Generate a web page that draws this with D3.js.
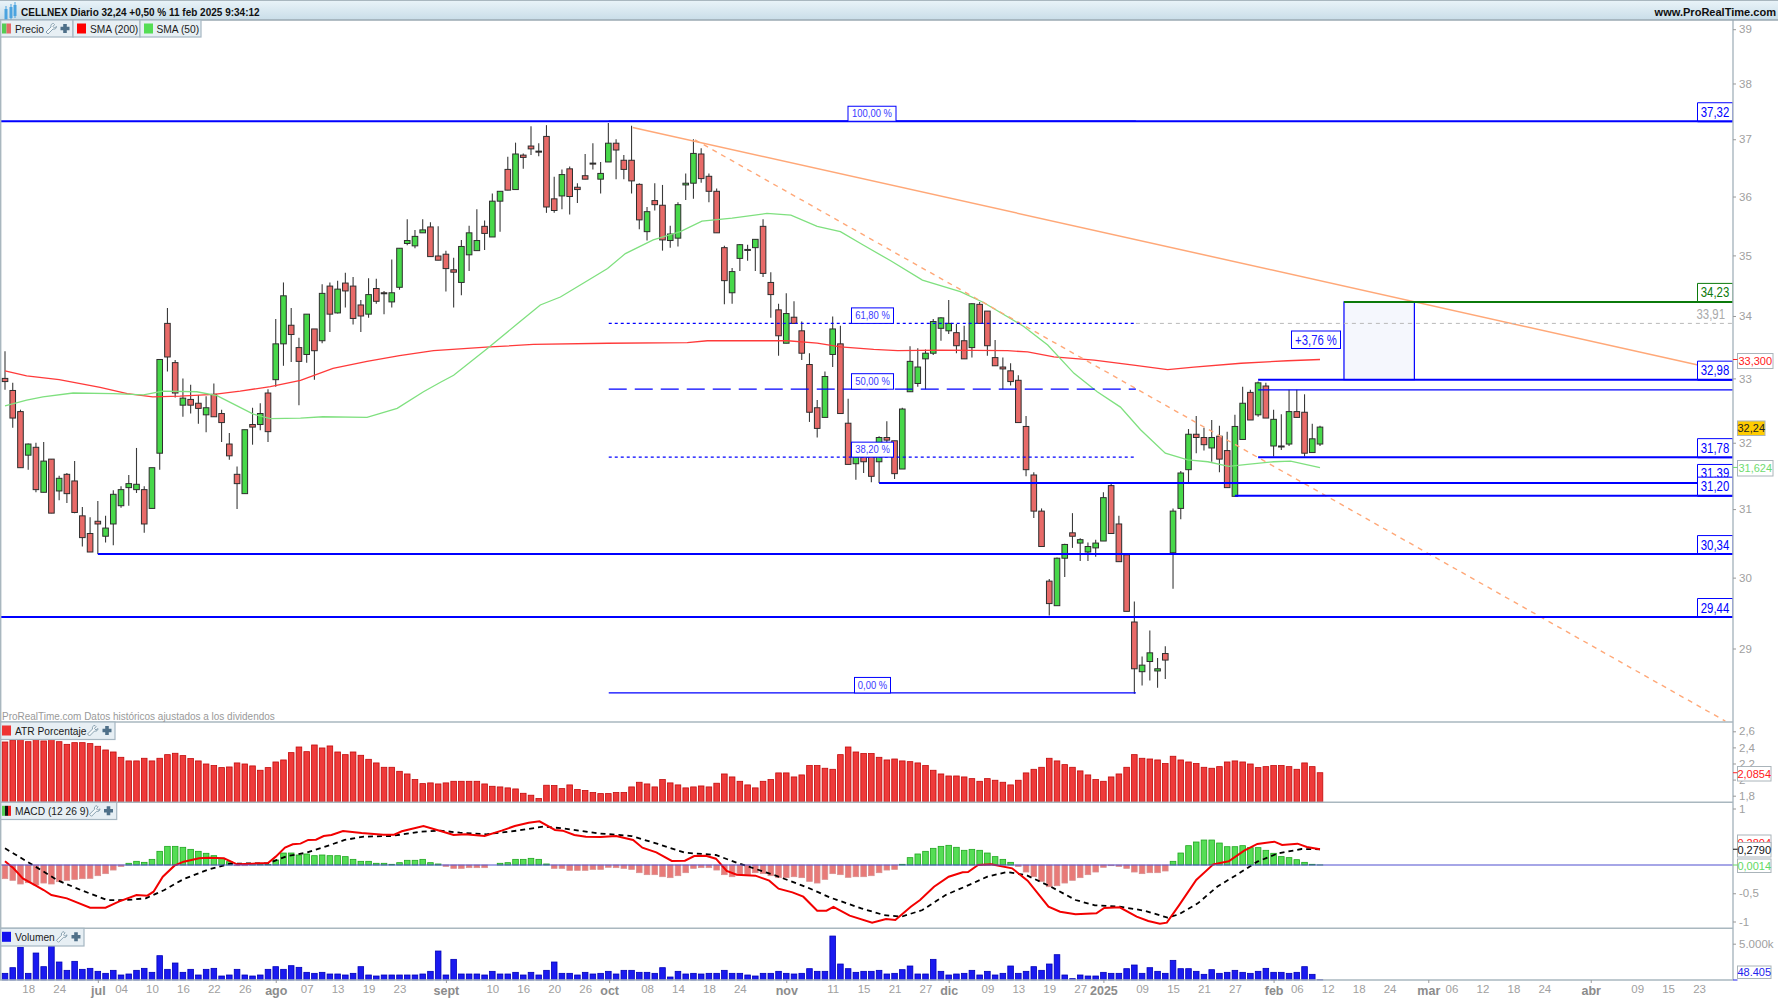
<!DOCTYPE html>
<html><head><meta charset="utf-8">
<script src="https://cdn.jsdelivr.net/npm/d3@7"></script>
<style>html,body{margin:0;padding:0;background:#fff;overflow:hidden}svg{display:block}
text{font-family:"Liberation Sans",Arial,sans-serif}</style></head><body>
<svg id="c" width="1778" height="1000"></svg>
<script>
const opens=[33.00,32.81,32.48,31.81,31.93,31.25,31.75,31.27,31.52,31.42,
30.90,30.64,30.82,30.60,30.78,31.05,31.32,31.29,31.29,31.01,
31.84,33.88,33.25,32.58,32.67,32.61,32.43,32.75,32.45,31.98,
31.52,31.23,32.28,32.28,32.77,32.98,33.55,33.85,33.49,33.38,
33.79,33.60,34.49,34.05,34.54,34.49,34.18,34.03,34.45,34.38,
34.23,34.47,35.20,35.16,35.38,35.48,34.99,35.02,34.76,34.55,
35.01,35.08,35.49,35.31,35.92,36.47,36.12,36.72,36.88,36.79,
37.05,35.96,36.01,36.48,36.16,36.36,36.58,36.30,36.60,36.93,
36.63,36.63,36.21,35.40,35.93,35.85,35.25,35.29,36.20,36.23,
36.74,36.35,36.09,35.13,34.38,34.95,35.09,35.13,35.49,34.55,
34.10,33.56,33.98,33.76,33.22,32.54,32.39,33.38,33.55,32.30,
31.68,31.85,31.89,31.71,32.08,32.03,31.60,32.79,32.92,33.31,
33.40,33.80,33.76,33.73,33.60,33.49,34.19,34.08,33.33,33.18,
33.12,32.97,32.25,31.51,30.97,29.95,29.60,30.28,30.65,30.50,
30.37,30.43,30.53,31.35,30.78,30.33,29.37,28.68,28.82,28.69,
28.93,30.36,31.01,31.59,32.13,32.08,31.92,32.10,31.88,31.19,
32.05,32.78,32.43,32.88,31.95,31.95,31.98,32.48,32.47,31.85,
31.98];
const closes=[32.95,32.38,31.62,31.98,31.29,31.72,30.94,31.46,31.23,30.95,
30.58,30.37,30.78,30.72,31.22,31.29,31.38,31.37,30.78,31.62,
33.30,33.34,32.77,32.69,32.58,32.53,32.54,32.40,32.31,31.80,
31.38,32.20,32.24,32.45,32.17,33.55,34.33,33.70,33.27,34.03,
33.44,34.37,34.03,34.44,34.41,33.96,34.00,34.35,34.24,34.37,
34.38,35.12,35.25,35.32,35.43,34.98,34.92,34.78,34.72,35.15,
35.38,35.25,35.37,35.92,36.09,36.11,36.74,36.68,36.83,36.78,
35.82,35.76,36.38,36.00,36.12,36.30,36.57,36.40,36.93,36.81,
36.47,36.27,35.60,35.74,35.86,35.26,35.36,35.86,36.23,36.75,
36.31,36.09,35.38,34.58,34.73,35.18,35.10,35.27,34.70,34.35,
33.68,34.04,33.88,33.40,32.47,32.22,33.03,33.79,32.45,31.67,
31.97,31.71,31.49,32.08,32.04,31.53,32.52,33.27,33.18,33.40,
33.91,33.97,33.88,33.52,33.31,34.20,33.88,33.52,33.20,33.15,
32.95,32.31,31.59,30.97,30.45,29.63,30.28,30.48,30.60,30.55,
30.45,30.50,31.17,30.64,30.23,29.52,28.72,28.77,28.94,28.72,
28.84,30.97,31.54,32.13,32.08,31.97,32.08,31.75,31.32,32.25,
32.61,32.35,32.93,32.38,32.36,31.94,32.48,32.39,31.84,32.06,
32.24];
const highs=[33.43,32.93,32.51,31.99,32.00,32.01,31.75,31.50,31.54,31.72,
31.03,30.88,31.12,30.90,31.28,31.34,31.51,31.92,31.34,31.62,
33.30,34.13,33.29,33.00,32.90,32.74,32.72,32.92,32.51,32.15,
31.64,32.20,32.54,32.61,32.83,33.95,34.55,34.13,33.65,34.03,
33.79,34.52,34.55,34.58,34.71,34.64,34.26,34.62,34.61,34.41,
34.93,35.12,35.61,35.43,35.61,35.56,35.49,35.08,34.96,35.26,
35.50,35.78,35.59,36.05,36.09,36.69,36.94,36.75,37.23,36.93,
37.25,36.34,36.47,36.52,36.23,36.74,36.93,36.60,37.29,37.00,
36.72,37.24,36.23,35.82,36.23,36.20,35.50,35.90,36.40,37.00,
36.84,36.40,36.14,35.16,34.79,35.19,35.18,35.27,35.61,34.72,
34.20,34.37,34.24,33.91,33.40,32.66,33.11,33.99,33.84,32.68,
31.97,31.92,31.93,32.10,32.33,32.03,32.54,33.51,33.48,33.46,
33.95,33.98,34.26,33.87,33.84,34.21,34.23,34.08,33.61,33.33,
33.24,33.05,32.41,31.55,31.01,29.98,30.29,30.49,30.94,30.57,
30.51,30.55,31.25,31.39,30.90,30.33,29.66,28.89,29.25,28.87,
29.03,31.01,31.57,32.21,32.41,32.23,32.35,32.26,32.17,32.43,
32.87,32.82,32.95,32.93,32.51,32.44,32.82,32.82,32.75,32.29,
32.26];
const lows=[32.82,32.23,31.62,31.59,31.25,31.25,30.94,31.13,31.09,30.94,
30.45,30.37,30.34,30.51,30.47,31.02,31.05,31.24,30.65,31.01,
31.59,33.11,32.70,32.40,32.45,32.29,32.16,32.40,32.01,31.74,
31.00,31.23,31.97,32.19,32.01,32.87,33.20,33.26,32.58,33.25,
32.98,33.56,33.74,34.04,34.14,33.86,33.74,33.97,34.20,34.03,
34.14,34.43,35.17,35.12,35.38,34.98,34.92,34.40,34.14,34.34,
34.74,35.08,35.09,35.31,35.40,36.11,36.12,36.48,36.72,36.70,
35.72,35.72,35.78,35.69,35.89,36.30,36.47,36.05,36.60,36.30,
36.30,36.05,35.44,35.25,35.76,35.08,35.13,35.15,35.94,35.96,
36.24,35.90,35.38,34.19,34.20,34.74,34.91,34.74,34.64,33.97,
33.36,33.56,33.88,33.29,32.32,32.08,32.39,33.18,32.45,31.67,
31.44,31.54,31.40,31.39,31.97,31.45,31.60,32.79,32.87,32.83,
33.37,33.60,33.71,33.40,33.31,33.33,33.88,33.36,33.20,32.83,
32.89,32.31,31.49,30.87,30.45,29.46,29.60,30.01,30.43,30.24,
30.24,30.30,30.53,30.64,30.23,29.52,28.38,28.49,28.56,28.46,
28.58,29.84,30.85,31.39,31.84,31.88,31.71,31.55,31.32,31.19,
32.05,32.35,32.40,32.38,31.79,31.89,31.95,32.39,31.79,31.85,
31.95];
const sma200Pos=[0,2.8,7,12.3,15.8,19.1,22.6,27,30.4,34.3,38.2,42.4,46.8,51,55.4,62.7,68.3,77.9,88.2,90.8,97.7,101.2,105,108,112.3,115.4,121,129.6,132.2,135.6,140.8,145.9,150.3,153.7,159.8,165.8,170];
const sma200Val=[33.12,33.04,32.98,32.86,32.76,32.71,32.72,32.75,32.80,32.87,32.97,33.16,33.27,33.36,33.44,33.50,33.54,33.56,33.57,33.60,33.60,33.60,33.56,33.50,33.46,33.44,33.45,33.44,33.42,33.34,33.29,33.21,33.14,33.18,33.24,33.28,33.30];
const sma50Pos=[0,2.8,4.9,8.8,14,17.9,20.4,24.8,27.4,29.5,32.1,34.3,38.2,41.1,46.8,50.7,54.1,56.3,58,62.4,66.2,69.2,71.8,74.8,77.9,80.2,83.8,87.3,90.1,94,98.5,101.6,105,108,111,114.5,118.6,123.5,126.5,131.7,134.8,138.2,141.2,144.2,146.8,150,152.9,155.5,158.2,160.6,164,166.2,170];
const sma50Val=[32.57,32.66,32.71,32.77,32.76,32.74,32.80,32.79,32.73,32.60,32.44,32.37,32.38,32.40,32.39,32.53,32.79,32.94,33.05,33.48,33.87,34.18,34.31,34.54,34.78,35.03,35.26,35.40,35.58,35.63,35.71,35.68,35.49,35.40,35.17,34.91,34.59,34.40,34.22,33.83,33.53,33.08,32.79,32.55,32.20,31.84,31.74,31.71,31.64,31.67,31.71,31.72,31.62];
const atrVal=[2.467,2.492,2.496,2.471,2.496,2.480,2.500,2.471,2.438,2.459,2.459,2.447,2.414,2.368,2.343,2.277,2.232,2.232,2.265,2.232,2.265,2.310,2.327,2.298,2.261,2.232,2.194,2.174,2.149,2.157,2.207,2.194,2.170,2.116,2.149,2.219,2.244,2.335,2.405,2.347,2.430,2.393,2.418,2.343,2.310,2.343,2.302,2.252,2.207,2.153,2.153,2.103,2.070,2.000,1.950,1.959,1.946,1.959,1.979,1.979,1.979,1.979,1.946,1.917,1.909,1.897,1.884,1.830,1.806,1.764,1.930,1.926,1.888,1.934,1.876,1.864,1.839,1.826,1.826,1.839,1.839,1.909,1.967,1.946,1.909,2.000,1.959,1.934,1.897,1.909,1.921,1.909,1.955,2.070,2.033,1.979,1.934,1.897,1.979,2.000,2.083,2.083,2.033,2.058,2.174,2.174,2.141,2.128,2.310,2.405,2.343,2.323,2.323,2.277,2.244,2.256,2.232,2.223,2.207,2.174,2.116,2.070,2.045,2.045,2.033,2.012,1.979,2.012,1.992,1.967,1.934,1.992,2.083,2.128,2.153,2.265,2.232,2.186,2.153,2.108,2.058,2.000,1.979,2.033,2.070,2.153,2.310,2.265,2.256,2.244,2.199,2.290,2.244,2.219,2.199,2.153,2.141,2.161,2.219,2.232,2.219,2.194,2.149,2.161,2.174,2.174,2.161,2.128,2.207,2.161,2.0854];
const histVal=[-.242,-.271,-.336,-.313,-.354,-.319,-.336,-.295,-.271,-.254,-.242,-.236,-.189,-.153,-.089,-.024,.030,.065,.047,.100,.242,.330,.330,.313,.277,.242,.207,.165,.118,.059,-.012,-.012,.006,.012,.012,.089,.212,.212,.177,.195,.165,.177,.165,.165,.148,.100,.065,.065,.030,.030,.012,.041,.083,.083,.100,.041,.018,-.024,-.059,-.059,-.047,-.047,-.047,0,.030,.041,.100,.100,.118,.100,.018,-.059,-.059,-.094,-.094,-.094,-.077,-.077,-.041,-.047,-.059,-.077,-.136,-.171,-.171,-.207,-.224,-.189,-.136,-.059,-.047,-.047,-.089,-.171,-.207,-.171,-.171,-.136,-.153,-.189,-.224,-.224,-.207,-.224,-.289,-.319,-.254,-.153,-.171,-.218,-.207,-.207,-.189,-.136,-.089,-.077,.012,.130,.195,.242,.295,.330,.348,.313,.260,.277,.260,.212,.148,.100,.047,-.024,-.124,-.207,-.289,-.384,-.366,-.319,-.271,-.224,-.171,-.124,-.041,-.012,-.024,-.059,-.124,-.153,-.136,-.136,-.106,.065,.212,.342,.407,.442,.442,.389,.324,.324,.342,.307,.307,.260,.207,.148,.130,.094,.047,.012,.0014];
const macdPos=[0,1.1,2.3,4.1,5,6,8,11,13,14.7,17,18.4,19.2,20.4,21.9,23.1,25.1,26.3,28.3,30,32,34,35,36.2,37.2,38.2,39.2,40.2,41.2,42.2,43.7,46.1,48.9,50.3,51.3,54.1,56.3,58,59.5,62,64.2,65.9,67.7,69.1,71.1,72.1,73.6,75.1,77,79,81.2,82.4,84.2,86.2,87.9,89.1,90.6,91.9,93.3,94.6,97,98.8,100,101.8,103.2,105,106.2,107.1,109.2,112.1,113.9,115.1,117.1,118.3,120.1,122,123.8,124.5,125.8,127.5,130.2,132.2,134.9,136.4,138.4,141.1,142.1,144.1,146.3,147.8,149.3,150.2,151.75,154,156.2,158.2,160.2,161.9,164.1,165.1,167.1,168.3,170];
const macdVal=[.065,-.059,-.236,-.372,-.443,-.531,-.590,-.755,-.755,-.649,-.531,-.543,-.472,-.207,-.012,.059,.118,.130,.118,.012,.024,.035,.148,.307,.366,.378,.443,.448,.513,.531,.602,.566,.537,.537,.596,.690,.602,.531,.543,.513,.608,.690,.749,.773,.620,.608,.531,.502,.496,.513,.443,.307,.224,.071,.077,.159,.165,.112,-.106,-.171,-.189,-.277,-.419,-.484,-.561,-.808,-.808,-.743,-.897,-1.021,-.956,-.974,-.738,-.620,-.384,-.207,-.130,-.124,0,.012,-.059,-.277,-.738,-.826,-.873,-.856,-.761,-.749,-.915,-.991,-1.038,-1.021,-.720,-.266,.012,.065,.254,.372,.413,.354,.378,.319,.2804];
const signalPos=[0,2.3,3.6,6.8,9.8,13.2,15.7,18.2,20.6,23.1,26.1,29.1,34,36.5,39,41.4,43.9,46.4,49.9,53.8,56.3,58.8,62.2,66.2,69.6,72.1,76.6,81,84.4,87.9,91.9,94.8,99.3,103.7,106.7,110.7,113.6,115.9,118.6,121.6,124.5,127,129.5,132,135.2,138.4,140.9,144.1,147.3,150.3,151.75,154.2,156.7,159.2,161.9,164.6,167.6,170];
const signalVal=[.295,.106,0,-.271,-.443,-.620,-.620,-.590,-.443,-.248,-.089,.024,.030,.159,.218,.325,.443,.502,.513,.590,.608,.572,.543,.608,.679,.649,.561,.513,.372,.218,.177,.030,-.171,-.395,-.578,-.767,-.885,-.915,-.797,-.531,-.360,-.207,-.124,-.177,-.384,-.620,-.714,-.738,-.808,-.932,-.873,-.679,-.384,-.177,.059,.207,.283,.279];
const volVal=[917,1697,4495,917,3715,1835,4679,2477,1330,2569,1468,1605,1193,917,1330,688,826,1330,1605,1055,3349,1468,2339,1055,1468,688,1468,1605,550,688,1468,688,550,688,1468,1835,1468,1972,1743,1055,917,1055,826,826,688,917,1835,688,550,688,688,688,688,688,826,1193,3991,688,2844,826,826,826,688,1193,826,826,1055,688,1055,688,1330,2477,917,917,688,1055,826,
917,1193,826,1330,1330,1055,1055,917,1697,413,1193,826,917,826,917,917,1330,917,917,688,550,917,917,1193,917,826,917,1560,1193,1193,6055,2202,1560,1055,1193,1193,1330,826,917,1422,1927,826,826,2844,1193,688,826,917,1330,688,1193,688,917,1927,917,1193,1835,1330,2202,3486,688,183,688,550,550,1055,917,917,1560,2064,917,1697,1193,917,2706,1560,1560,1193,780,1422,917,1055,1330,1055,917,1193,1605,1055,1055,917,1055,1835,780,48];
const priceTicks=[29,30,31,32,33,34,35,36,37,38,39];
const atrTicks=[1.8,2,2.2,2.4,2.6];
const macdTicks=[-1,-0.5,1];
const dayTickPos=[3,7,15,19,23,27,31,39,43,47,51,63,67,71,75,83,87,91,95,107,111,115,119,127,131,135,139,147,151,155,159,167,171,175,179,187,191,195,199,211,215,219];
const dayTickText=["18","24","04","10","16","22","26","07","13","19","23","10","16","20","26","08","14","18","24","11","15","21","27","09","13","19","27","09","15","21","27","06","12","18","24","06","12","18","24","09","15","23"];
const monthTickPos=[12,35,57,78.1,101,122,142,164,184,205];
const monthTickText=["jul","ago","sept","oct","nov","dic","2025","feb","mar","abr"];
const levelPrices=[37.32,34.23,32.98,32.82,31.78,31.39,31.20,30.34,29.44];
const levelStart=[-1,173.1,162,162,162,113,159,12,-1];
const levelLabel=["37,32","34,23","32,98",null,"31,78","31,39","31,20","30,34","29,44"];
const fibPrices=[37.32,33.88,32.83,31.78,28.39];
const fibText=["100,00 %","61,80 %","50,00 %","38,20 %","0,00 %"];

const W=1778,AX=1733,blue="#0000ff";
const svg=d3.select("#c");
const defs=svg.append("defs");
const hg=defs.append("linearGradient").attr("id","hd").attr("x1",0).attr("y1",0).attr("x2",0).attr("y2",1);
hg.append("stop").attr("offset",0).attr("stop-color","#eaf4f9");hg.append("stop").attr("offset",1).attr("stop-color","#c9dde8");
defs.append("clipPath").attr("id","pc").append("rect").attr("x",0).attr("y",20).attr("width",AX).attr("height",702);

const x=d3.scaleLinear().domain([0,170]).range([5,1320]);
const y=d3.scaleLog().domain([29,39]).range([648.5,29.2]);
const yA=d3.scaleLinear().domain([1.8,2.6]).range([795.7,731.3]);
const yM=d3.scaleLinear().domain([-1,1]).range([921.5,808.5]);
const yV=d3.scaleLinear().domain([0,5000]).range([980,943.7]);
const idx=d3.range(opens.length);
const BW=5.6;

function T(g,px,py,s,o={}){
  return g.append("text").attr("transform",`translate(${px},${py}) scale(${o.sx||1},1)`)
   .attr("font-size",o.size||11).attr("fill",o.fill||"#000").attr("text-anchor",o.anchor||"start")
   .attr("font-weight",o.weight||"normal").text(s);
}
const main=svg.append("g").attr("clip-path","url(#pc)");

// rectangle zone
const zx0=x(173.1),zx1=x(182.2);
main.append("rect").attr("x",zx0).attr("width",zx1-zx0).attr("y",y(34.23)).attr("height",y(32.98)-y(34.23))
 .attr("fill","#f5f7fd").attr("stroke",blue).attr("stroke-width",1.2);

// candles
const cg=main.append("g");
cg.selectAll("line").data(idx).join("line")
 .attr("x1",i=>x(i)).attr("x2",i=>x(i)).attr("y1",i=>y(highs[i])).attr("y2",i=>y(lows[i]))
 .attr("stroke","#3a3a3a").attr("stroke-width",1.1);
cg.selectAll("rect").data(idx).join("rect")
 .attr("x",i=>x(i)-BW/2).attr("width",BW)
 .attr("y",i=>y(Math.max(opens[i],closes[i])))
 .attr("height",i=>Math.max(1,Math.abs(y(opens[i])-y(closes[i]))))
 .attr("fill",i=>closes[i]>=opens[i]?"#47d84a":"#e86a68").attr("stroke","#2e2e2e").attr("stroke-width",1);

// SMA lines
const ln=(px,py)=>d3.line().x((d,i)=>x(px[i])).y(d=>py(d));
main.append("path").attr("d",ln(sma200Pos,y)(sma200Val)).attr("fill","none").attr("stroke","#ff3a3a").attr("stroke-width",1.3);
main.append("path").attr("d",ln(sma50Pos,y)(sma50Val)).attr("fill","none").attr("stroke","#7fe07f").attr("stroke-width",1.3);

// trend lines
main.append("line").attr("x1",x(81.15)).attr("y1",y(37.21)).attr("x2",x(219.3)).attr("y2",y(33.2)).attr("stroke","#ffa878").attr("stroke-width",1.5);
main.append("line").attr("x1",x(89.2)).attr("y1",y(36.99)).attr("x2",x(222.4)).attr("y2",y(28.01)).attr("stroke","#ffa878").attr("stroke-width",1.4).attr("stroke-dasharray","5,5");

// gray dashed
main.append("line").attr("x1",x(146.2)).attr("x2",AX).attr("y1",y(33.88)).attr("y2",y(33.88)).attr("stroke","#b8b8b8").attr("stroke-width",1).attr("stroke-dasharray","4,4");

// fib levels
const fx0=x(78.05),fx1=x(146.2);
const fibDash=[null,"3,3","18,8","3,3",null];
fibPrices.forEach((p,i)=>{
 main.append("line").attr("x1",fx0).attr("x2",fx1).attr("y1",y(p)).attr("y2",y(p)).attr("stroke",blue)
   .attr("stroke-width",1.3).attr("stroke-dasharray",fibDash[i]);
});

// levels
levelPrices.forEach((p,i)=>{
 main.append("line").attr("x1",x(levelStart[i])).attr("x2",AX).attr("y1",y(p)).attr("y2",y(p))
  .attr("stroke",i==1?"#0b7a0b":blue).attr("stroke-width",i==3?1.2:2);
});
// level label boxes
levelPrices.forEach((p,i)=>{
 if(!levelLabel[i])return;
 const col=i==1?"#0b7a0b":blue, yy=y(p);
 main.append("path").attr("d",`M1697.5,${yy} V${yy-18.5} H${AX} V${yy}`).attr("fill","#fff").attr("stroke",col).attr("stroke-width",1);
 main.append("line").attr("x1",1697.5).attr("x2",AX).attr("y1",yy).attr("y2",yy).attr("stroke",col).attr("stroke-width",2);
 T(main,1715,yy-4.5,levelLabel[i],{size:15,sx:.76,fill:col,anchor:"middle"});
});
T(svg,1725,319,"33,91",{size:15,sx:.76,fill:"#aaaaaa",anchor:"end"});

// fib labels
const fibBox=[[848,896,15],[851.5,893.5,15.5],[851.5,893.5,15.5],[851.5,893.5,15],[854.5,890.5,15.5]];
fibPrices.forEach((p,i)=>{
 const yy=y(p),b=fibBox[i];
 main.append("rect").attr("x",b[0]).attr("y",yy-b[2]).attr("width",b[1]-b[0]).attr("height",b[2]).attr("fill","#fff").attr("stroke",blue).attr("stroke-width",1);
 T(main,(b[0]+b[1])/2,yy-4,fibText[i],{size:10.5,sx:.9,fill:"#3a3aff",anchor:"middle"});
});
// +3,76 %
svg.append("rect").attr("x",1291.5).attr("y",331).attr("width",49).attr("height",17.5).attr("fill","#fff").attr("stroke",blue).attr("stroke-width",1);
T(svg,1316,344.5,"+3,76 %",{size:14.5,sx:.78,fill:"#1a1aff",anchor:"middle"});

// bars
const barG=(data,yf,y0)=>svg.append("g").selectAll("rect").data(data).join("rect")
 .attr("x",(d,i)=>x(i)-BW/2).attr("width",BW)
 .attr("y",d=>Math.min(yf(d),y0)).attr("height",d=>Math.abs(yf(d)-y0));
barG(atrVal,yA,802).attr("fill","#ee3a3a").attr("stroke","#c20a0a").attr("stroke-width",.8);

// MACD
barG(histVal,yM,865).attr("fill",d=>d>=0?"#55dd55":"#e87a78").attr("stroke",d=>d>=0?"#1fa51f":"#d89090").attr("stroke-width",.8);
svg.append("path").attr("d",ln(signalPos,yM)(signalVal)).attr("fill","none").attr("stroke","#000").attr("stroke-width",1.8).attr("stroke-dasharray","5,4");
svg.append("path").attr("d",ln(macdPos,yM)(macdVal)).attr("fill","none").attr("stroke","#f20000").attr("stroke-width",2);
svg.append("line").attr("x1",0).attr("x2",AX).attr("y1",865).attr("y2",865).attr("stroke","#4f4fd0").attr("stroke-width",1.1);

// Volume
barG(volVal,yV,980).attr("fill","#1a1af0").attr("stroke","#0000b8").attr("stroke-width",.8);

// frame
const frame=svg.append("g").attr("stroke","#a9b7bf").attr("stroke-width",1.4);
[722,802.3,928.3,980].forEach(v=>frame.append("line").attr("x1",0).attr("x2",AX).attr("y1",v).attr("y2",v));
frame.append("line").attr("x1",AX).attr("x2",AX).attr("y1",20).attr("y2",980);
frame.append("line").attr("x1",.7).attr("x2",.7).attr("y1",0).attr("y2",980);

// right axes
function styl(g,size){g.select(".domain").remove();g.selectAll("line").attr("stroke","#999");g.selectAll("text").attr("fill","#a0a0a0").attr("font-size",size||11.5);}
const fmt=d=>String(d).replace(".",",");
svg.append("g").attr("transform",`translate(${AX},0)`).call(d3.axisRight(y).tickValues(priceTicks).tickFormat(d=>d).tickSize(3).tickPadding(3)).call(styl);
svg.append("g").attr("transform",`translate(${AX},0)`).call(d3.axisRight(yA).tickValues(atrTicks).tickFormat(fmt).tickSize(3).tickPadding(3)).call(styl);
svg.append("g").attr("transform",`translate(${AX},0)`).call(d3.axisRight(yM).tickValues(macdTicks).tickFormat(fmt).tickSize(3).tickPadding(3)).call(styl);
svg.append("g").attr("transform",`translate(${AX},0)`).call(d3.axisRight(yV).tickValues([5000]).tickFormat(()=>"5.000k").tickSize(3).tickPadding(3)).call(styl);

// bottom date axes
const dayAxis=d3.axisBottom(x).tickValues(dayTickPos).tickFormat((d,i)=>dayTickText[i]).tickSize(0).tickPadding(5);
svg.append("g").attr("transform","translate(0,980)").call(dayAxis).call(g=>styl(g,11.5));
const monthAxis=d3.axisBottom(x).tickValues(monthTickPos).tickFormat((d,i)=>monthTickText[i]).tickSize(3).tickPadding(3);
svg.append("g").attr("transform","translate(0,980)").call(monthAxis).call(g=>{styl(g,12.5);g.selectAll("text").attr("fill","#8c8c8c").attr("font-weight","bold");});

// value tags
function tag(x0,x1,y0,y1,s,col,bg,tick){
 svg.append("rect").attr("x",x0).attr("y",y0).attr("width",x1-x0).attr("height",y1-y0).attr("fill",bg||"#fff").attr("stroke","#aab4ba").attr("stroke-width",1);
 T(svg,(x0+x1)/2,(y0+y1)/2+4,s,{size:11,fill:col,anchor:"middle"});
 if(tick!=null)svg.append("line").attr("x1",AX).attr("x2",x0).attr("y1",tick).attr("y2",tick).attr("stroke",col);
}
tag(1737.5,1773,353.5,368.5,"33,300","#ff2020",null,y(33.3));
tag(1737.5,1765,421,435.5,"32,24","#222","#ffcc00");
tag(1737.5,1773,460.5,476,"31,624","#6fdc6f",null,y(31.624));
tag(1737.5,1771,766.5,781,"2,0854","#ff2020",null,yA(2.0854));
tag(1737.5,1771,835,850,"0,2804","#ff2020",null,null);
tag(1737.5,1771,842.5,857,"0,2790","#111",null,yM(.279));
tag(1737.5,1771,859,872.5,"0,0014","#63d963",null,865);
tag(1737.5,1771,966,978.5,"48.405","#2222ee",null,980);

// header
svg.append("rect").attr("x",0).attr("y",0).attr("width",W).attr("height",20).attr("fill","url(#hd)");
svg.append("line").attr("x1",0).attr("x2",W).attr("y1",.5).attr("y2",.5).attr("stroke","#a9b7bf");
svg.append("line").attr("x1",0).attr("x2",W).attr("y1",20).attr("y2",20).attr("stroke","#9aa9b2").attr("stroke-width",1.4);
T(svg,21,16,"CELLNEX Diario 32,24 +0,50 % 11 feb 2025 9:34:12",{size:11.5,weight:"bold",fill:"#101010",sx:.87});
T(svg,1776,16,"www.ProRealTime.com",{size:11.5,weight:"bold",fill:"#101010",anchor:"end",sx:.96});
[[6,9,17],[11,7,13],[15,5,11]].forEach(d=>{
 svg.append("rect").attr("x",d[0]-1.5).attr("y",d[1]).attr("width",3).attr("height",d[2]-d[1]+5).attr("fill","#4aa3df");
 svg.append("line").attr("x1",d[0]).attr("x2",d[0]).attr("y1",d[1]-3).attr("y2",d[2]+7).attr("stroke","#4aa3df");
});

// tabs
function wrench(px,py){
 svg.append("path").attr("transform",`translate(${px},${py})`)
  .attr("d","M8,0 C6,0 5,1.5 5.5,3.5 L0.5,8.5 L2.5,10.5 L7.5,5.5 C9.5,6 11,5 11,3 L9,4.5 L7.5,3 L9,1 Z")
  .attr("fill","#f4f8fa").attr("stroke","#7d97a8").attr("stroke-width",.9);
}
function plus(cx,cy){
 svg.append("path").attr("d",`M${cx-1.8},${cy-4.5}h3.6v2.7h2.7v3.6h-2.7v2.7h-3.6v-2.7h-2.7v-3.6h2.7z`).attr("fill","#4f7089");
}
function tab(x0,x1,y0,y1,label,lx,sq,withIcons,ix,px){
 svg.append("rect").attr("x",x0).attr("y",y0).attr("width",x1-x0).attr("height",y1-y0).attr("fill","#e7eff4").attr("stroke","#a6b6c1").attr("stroke-width",1.2);
 sq.forEach(s=>svg.append("rect").attr("x",s[0]).attr("y",y0+3.5).attr("width",s[1]).attr("height",10).attr("fill",s[2]));
 T(svg,lx,y0+13,label,{size:11,fill:"#1a1a1a",sx:.93});
 if(withIcons){wrench(ix,y0+3.5);plus(px,y0+8.5);}
}
tab(.7,73,20,37,"Precio",15,[[2,4.5,"#55cc55"],[6.5,4.5,"#e46a68"]],true,45.5,65);
tab(73,140,20,37,"SMA (200)",90,[[77,9,"#ff0000"]],false);
tab(140,201,20,37,"SMA (50)",156.5,[[144,9,"#55dd55"]],false);
T(svg,2,719.5,"ProRealTime.com  Datos históricos ajustados a los dividendos",{size:10.5,fill:"#999",sx:.95});
tab(.7,115,722,739.5,"ATR Porcentaje",15,[[2,9,"#ee3333"]],true,87,107);
tab(.7,116.7,802.3,819.5,"MACD (12 26 9)",15,[[2,3,"#55cc55"],[5,3,"#111"],[8,3,"#e22"]],true,89,108.5);
tab(.7,84,928.3,946,"Volumen",15,[[2,9,"#1111ee"]],true,56,76);
</script></body></html>
